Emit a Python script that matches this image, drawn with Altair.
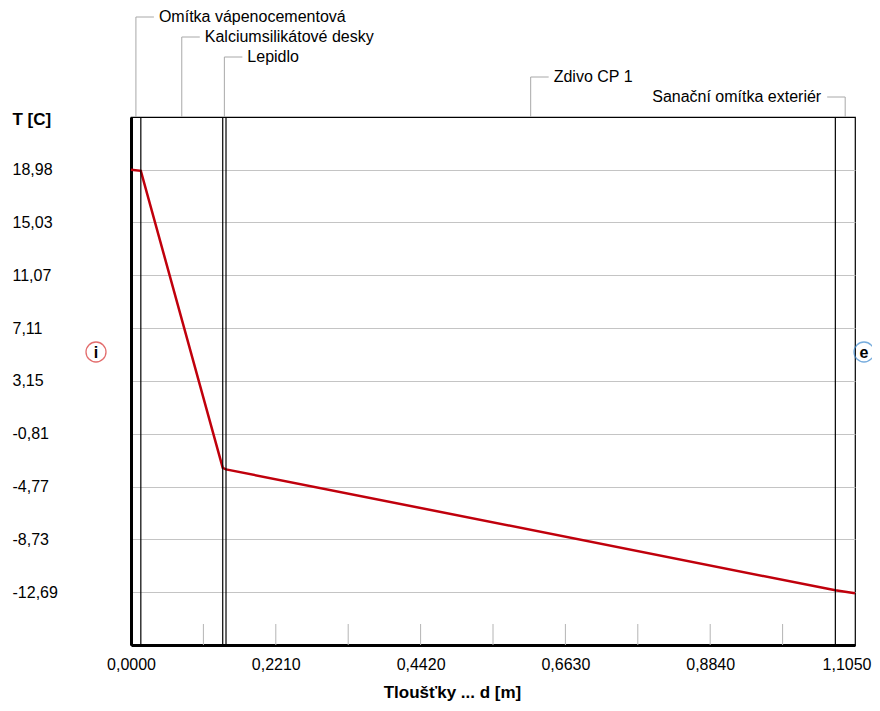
import altair as alt
import pandas as pd

# ---------------- data ----------------
layer_names = ["Omítka vápenocementová", "Kalciumsilikátové desky", "Lepidlo",
               "Zdivo CP 1", "Sanační omítka exteriér"]
layer_bounds = [0.0, 0.015, 0.140, 0.145, 1.075, 1.105]
profile_d = [0.0, 0.015, 0.140, 0.145, 1.075, 1.105]
profile_t = [18.98, 18.90, -3.37, -3.48, -12.55, -12.77]
y_ticks = [18.98, 15.03, 11.07, 7.11, 3.15, -0.81, -4.77, -8.73, -12.69]
x_ticks = [0.0, 0.221, 0.442, 0.663, 0.884, 1.105]
x_minor = [0.1105, 0.221, 0.3315, 0.442, 0.5525, 0.663, 0.7735, 0.884, 0.9945]
x_domain = [0.0, 1.105]
y_domain = [-16.65, 22.94]
side_labels = ["i", "e"]

# ---------------- layout / style ----------------
W, H = 724, 528
px_x = W / (x_domain[1] - x_domain[0])
px_y = H / (y_domain[1] - y_domain[0])
row_px = [100, 80, 60, 40, 20]          # label rows above the plot
leader_len = 18
FONT = "Liberation Sans"
RED = "#c0000c"

mids = [(layer_bounds[i] + layer_bounds[i + 1]) / 2 for i in range(len(layer_names))]
leaders = pd.DataFrame({
    "name": layer_names,
    "mid": mids,
    "row": [y_domain[1] + r / px_y for r in row_px],
    "side": ["L", "L", "L", "L", "R"],
})
leaders["xend"] = [m + (leader_len if s == "L" else -leader_len) / px_x
                   for m, s in zip(leaders["mid"], leaders["side"])]
leaders["top"] = y_domain[1]

side_df = pd.DataFrame({
    "lab": side_labels,
    "x": [x_domain[0] - 35 / px_x, x_domain[1] + 9 / px_x],
    "y": [y_domain[1] - 235 / px_y] * 2,
    "col": ["#d83030", "#3d8ad0"],
})

profile = pd.DataFrame({"d": profile_d, "t": profile_t})
bounds_df = pd.DataFrame({"b": layer_bounds[1:-1]})
minor_df = pd.DataFrame({"m": x_minor})

xs = alt.Scale(domain=x_domain, nice=False, zero=False)
ys = alt.Scale(domain=y_domain, nice=False, zero=False)

last_x = f"datum.value >= {x_domain[1] - 1e-6}"
x_axis = alt.Axis(values=x_ticks, labelExpr="replace(format(datum.value, '.4f'), '.', ',')",
                  title="Tloušťky ... d [m]", titleX=321, titleY=47, titleAlign="center",
                  titleBaseline="middle", titleFont=FONT, titleFontSize=17, titleFontWeight="bold",
                  titleColor="black", labelFont=FONT, labelFontSize=16, labelColor="black",
                  labelAlign={"condition": {"test": last_x, "value": "right"}, "value": "center"},
                  labelOffset={"condition": {"test": last_x, "value": 16}, "value": 0},
                  labelPadding=11, labelFlush=False, labelOverlap=False, labelBound=False,
                  ticks=False, grid=False, domainColor="black", domainWidth=3)
y_axis = alt.Axis(values=y_ticks,
                  labelExpr="replace(replace(format(datum.value, '.2f'), '.', ','), '\u2212', '-')",
                  title="T [C]", titleAngle=0, titleX=-119, titleY=2, titleAlign="left",
                  titleBaseline="middle", titleFont=FONT, titleFontSize=17, titleFontWeight="bold",
                  titleColor="black", labelFont=FONT, labelFontSize=16, labelColor="black",
                  labelAlign="left", labelBaseline="middle", labelPadding=119, labelOverlap=False,
                  ticks=False, grid=True, gridColor="#c4c4c4", gridWidth=1,
                  domainColor="black", domainWidth=3)

line = alt.Chart(profile).mark_line(color=RED, strokeWidth=2.5).encode(
    x=alt.X("d:Q", scale=xs, axis=x_axis),
    y=alt.Y("t:Q", scale=ys, axis=y_axis),
)

minor = alt.Chart(minor_df).mark_rule(color="#b4b4b4", strokeWidth=1).encode(
    x=alt.X("m:Q", scale=xs),
    y=alt.value(H), y2=alt.value(H - 21),
)

bounds = alt.Chart(bounds_df).mark_rule(color="black", strokeWidth=1.2).encode(
    x=alt.X("b:Q", scale=xs),
)

lead_v = alt.Chart(leaders).mark_rule(color="#a8a8a8", strokeWidth=1).encode(
    x=alt.X("mid:Q", scale=xs),
    y=alt.Y("top:Q", scale=ys), y2="row:Q",
)
lead_h = alt.Chart(leaders).mark_rule(color="#a8a8a8", strokeWidth=1).encode(
    x=alt.X("mid:Q", scale=xs), x2="xend:Q",
    y=alt.Y("row:Q", scale=ys),
)
text_l = alt.Chart(leaders).transform_filter("datum.side == 'L'").mark_text(
    align="left", baseline="middle", dx=23, font=FONT, fontSize=16, color="black"
).encode(x=alt.X("mid:Q", scale=xs), y=alt.Y("row:Q", scale=ys), text="name:N")
text_r = alt.Chart(leaders).transform_filter("datum.side == 'R'").mark_text(
    align="right", baseline="middle", dx=-24, font=FONT, fontSize=16, color="black"
).encode(x=alt.X("mid:Q", scale=xs), y=alt.Y("row:Q", scale=ys), text="name:N")

circles = alt.Chart(side_df).mark_point(shape="circle", size=400, filled=False, strokeWidth=1.3).encode(
    x=alt.X("x:Q", scale=xs), y=alt.Y("y:Q", scale=ys),
    color=alt.Color("col:N", scale=None),
)
circ_text = alt.Chart(side_df).mark_text(font=FONT, fontSize=16, fontWeight="bold", color="black",
                                         baseline="middle", dy=1).encode(
    x=alt.X("x:Q", scale=xs), y=alt.Y("y:Q", scale=ys), text="lab:N",
)

chart = alt.layer(line, minor, bounds, lead_v, lead_h, text_l, text_r, circles, circ_text).properties(
    width=W, height=H,
    autosize=alt.AutoSizeParams(type="none"),
    padding={"left": 123, "top": 109, "right": 17, "bottom": 56},
    background="white",
).configure_view(stroke="black", strokeWidth=1.2)

chart.save("out.html", embed_options={"renderer": "svg", "actions": False})
